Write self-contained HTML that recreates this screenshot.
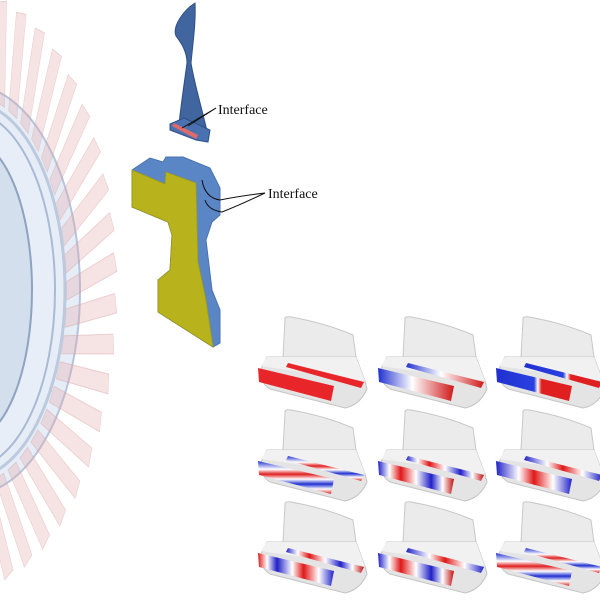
<!DOCTYPE html>
<html><head><meta charset="utf-8"><style>
html,body{margin:0;padding:0;background:#fff;width:600px;height:600px;overflow:hidden}
svg{display:block}
text{font-family:"Liberation Serif",serif;font-size:14px;fill:#111}
</style></head><body>
<svg width="600" height="600" viewBox="0 0 600 600" xmlns="http://www.w3.org/2000/svg">
<defs>
<polygon id="bl" points="230,-10 342,-44 350,-22 230,12" fill="#e3a9a9" fill-opacity="0.32" stroke="#d69a9a" stroke-opacity="0.4" stroke-width="1.2"/>
<g id="tile">
<path d="M35,5 Q34,1 41,2 Q75,8 103,20 L106,42 L33,42 Z" fill="#ebebeb" stroke="#c8c8c8"/>
<path d="M17,42 L106,42 L115,66 L117,74 Q110,90 95,93 L20,74 Q9,67 11,54 Z" fill="#e4e4e4" stroke="#c4c4c4"/>
<path d="M17,42 L106,42 L115,66 L11,51 Z" fill="#f1f1f1"/>
</g>
<linearGradient id="gR"><stop offset="0" stop-color="#e8262a"/><stop offset="1" stop-color="#e8262a"/></linearGradient>
<linearGradient id="g2"><stop offset="0" stop-color="#2030d0"/><stop offset=".45" stop-color="#fff"/><stop offset="1" stop-color="#d01818"/></linearGradient>
<linearGradient id="g3"><stop offset="0" stop-color="#2030d0"/><stop offset=".5" stop-color="#2a40e0"/><stop offset=".55" stop-color="#fff"/><stop offset=".6" stop-color="#e02020"/><stop offset="1" stop-color="#e02020"/></linearGradient>
<linearGradient id="g4" x1="0" y1="0" x2="0" y2="1"><stop offset="0" stop-color="#2030d0"/><stop offset=".25" stop-color="#fff"/><stop offset=".4" stop-color="#e02020"/><stop offset=".55" stop-color="#fff"/><stop offset=".7" stop-color="#2030d0"/><stop offset=".85" stop-color="#fff"/><stop offset="1" stop-color="#e02020"/></linearGradient>
<linearGradient id="g5"><stop offset="0" stop-color="#2020c8"/><stop offset=".15" stop-color="#fff"/><stop offset=".3" stop-color="#e01818"/><stop offset=".5" stop-color="#fff"/><stop offset=".7" stop-color="#2020c8"/><stop offset=".85" stop-color="#fff"/><stop offset="1" stop-color="#c01010"/></linearGradient>
<linearGradient id="g6"><stop offset="0" stop-color="#2020c8"/><stop offset=".3" stop-color="#fff"/><stop offset=".5" stop-color="#e01818"/><stop offset=".75" stop-color="#fff"/><stop offset="1" stop-color="#2020c8"/></linearGradient>
<linearGradient id="g7"><stop offset="0" stop-color="#e01818"/><stop offset=".12" stop-color="#fff"/><stop offset=".25" stop-color="#2020c8"/><stop offset=".45" stop-color="#fff"/><stop offset=".6" stop-color="#e01818"/><stop offset=".8" stop-color="#fff"/><stop offset="1" stop-color="#2020c8"/></linearGradient>
</defs>

<!-- disk -->
<g transform="translate(-30,290)">
<ellipse cx="0" cy="0" rx="110" ry="205" fill="#dce6f2" fill-opacity="0.7" stroke="#b4c4dc" stroke-width="2"/>
<ellipse cx="0" cy="0" rx="95" ry="188" fill="none" stroke="#9fb2cf" stroke-width="3" stroke-opacity=".6"/>
<ellipse cx="0" cy="0" rx="85" ry="178" fill="#e8eff7" fill-opacity="0.5" stroke="#a9bad4" stroke-width="2"/>
<ellipse cx="0" cy="0" rx="62" ry="150" fill="#c4d3e6" fill-opacity="0.55" stroke="#8ea3c2" stroke-width="2"/>
<g transform="scale(0.42,0.85)">
<use href="#bl" transform="rotate(-80)"/><use href="#bl" transform="rotate(-72)"/><use href="#bl" transform="rotate(-64)"/><use href="#bl" transform="rotate(-56)"/><use href="#bl" transform="rotate(-48)"/><use href="#bl" transform="rotate(-40)"/><use href="#bl" transform="rotate(-32)"/><use href="#bl" transform="rotate(-24)"/><use href="#bl" transform="rotate(-16)"/><use href="#bl" transform="rotate(-8)"/><use href="#bl" transform="rotate(0)"/><use href="#bl" transform="rotate(8)"/><use href="#bl" transform="rotate(16)"/><use href="#bl" transform="rotate(24)"/><use href="#bl" transform="rotate(32)"/><use href="#bl" transform="rotate(40)"/><use href="#bl" transform="rotate(48)"/><use href="#bl" transform="rotate(56)"/><use href="#bl" transform="rotate(64)"/><use href="#bl" transform="rotate(72)"/><use href="#bl" transform="rotate(80)"/>
</g>
</g>

<!-- blade -->
<path d="M195,3 C184,10 172,26 176,36 C182,44 187,52 187,63 C184,85 181,105 179,124 L207,131 C201,105 194,82 191,63 C193,42 196,22 195,3 Z" fill="#41659f" stroke="#2f4f88" stroke-width="1"/>
<path d="M170,124 L184,118 L210,130 L208,142 L196,140 L170,130 Z" fill="#4a72b0" stroke="#2f4f88" stroke-width="1"/>
<path d="M172,126 L174,123 L198,135 L196,139 Z" fill="#e06a6a"/>
<line x1="216" y1="108" x2="182" y2="128" stroke="#111" stroke-width="1"/>
<line x1="216" y1="108" x2="188" y2="126" stroke="#111" stroke-width="1"/>
<text x="218" y="114">Interface</text>

<!-- disk sector -->
<path d="M132,170 L150,158 L163,162 L166,157 L183,157 L210,168 L220,188 L220,215 L212,222 L206,240 L212,290 L220,310 L220,343 L213,347 L158,312 L158,280 L170,270 L172,235 L168,222 L132,207 Z" fill="#5b86c6" stroke="#4a72b0"/>
<path d="M132,170 L165,184 L166,172 L196,183 L198,262 L206,300 L213,347 L158,312 L158,280 L170,270 L172,235 L168,222 L132,207 Z" fill="#b8b21c" stroke="#9e9a14" stroke-width="0.8"/>
<path d="M265,193 Q240,196 220,200 Q205,198 202,180" fill="none" stroke="#111" stroke-width="1"/>
<path d="M265,193 Q240,205 222,212 Q208,210 205,200" fill="none" stroke="#111" stroke-width="1"/>
<text x="268" y="198">Interface</text>

<!-- mode tiles -->
<g transform="translate(250,315)"><use href="#tile"/>
<polygon points="8,53 84,71 81,86 9,67" fill="url(#gR)"/><polygon points="38,48 114,67 111,73 36,52" fill="url(#gR)"/></g>
<g transform="translate(370,315)"><use href="#tile"/>
<polygon points="8,53 84,71 81,86 9,67" fill="url(#g2)"/><polygon points="38,48 114,67 111,73 36,52" fill="url(#g2)"/></g>
<g transform="translate(488,315)"><use href="#tile"/>
<polygon points="8,53 84,71 81,86 9,67" fill="url(#g3)"/><polygon points="38,48 114,67 111,73 36,52" fill="url(#g3)"/></g>

<g transform="translate(250,408)"><use href="#tile"/>
<polygon points="8,53 84,71 81,86 9,67" fill="url(#g4)"/><polygon points="38,48 114,67 111,73 36,52" fill="url(#g4)"/></g>
<g transform="translate(370,408)"><use href="#tile"/>
<polygon points="8,53 84,71 81,86 9,67" fill="url(#g5)"/><polygon points="38,48 114,67 111,73 36,52" fill="url(#g5)"/></g>
<g transform="translate(488,408)"><use href="#tile"/>
<polygon points="8,53 84,71 81,86 9,67" fill="url(#g6)"/><polygon points="38,48 114,67 111,73 36,52" fill="url(#g6)"/></g>

<g transform="translate(250,500)"><use href="#tile"/>
<polygon points="8,53 84,71 81,86 9,67" fill="url(#g7)"/><polygon points="38,48 114,67 111,73 36,52" fill="url(#g5)"/></g>
<g transform="translate(370,500)"><use href="#tile"/>
<polygon points="8,53 84,71 81,86 9,67" fill="url(#g5)"/><polygon points="38,48 114,67 111,73 36,52" fill="url(#g6)"/></g>
<g transform="translate(488,500)"><use href="#tile"/>
<polygon points="8,53 84,71 81,86 9,67" fill="url(#g4)"/><polygon points="38,48 114,67 111,73 36,52" fill="url(#g4)"/></g>
</svg>
</body></html>
